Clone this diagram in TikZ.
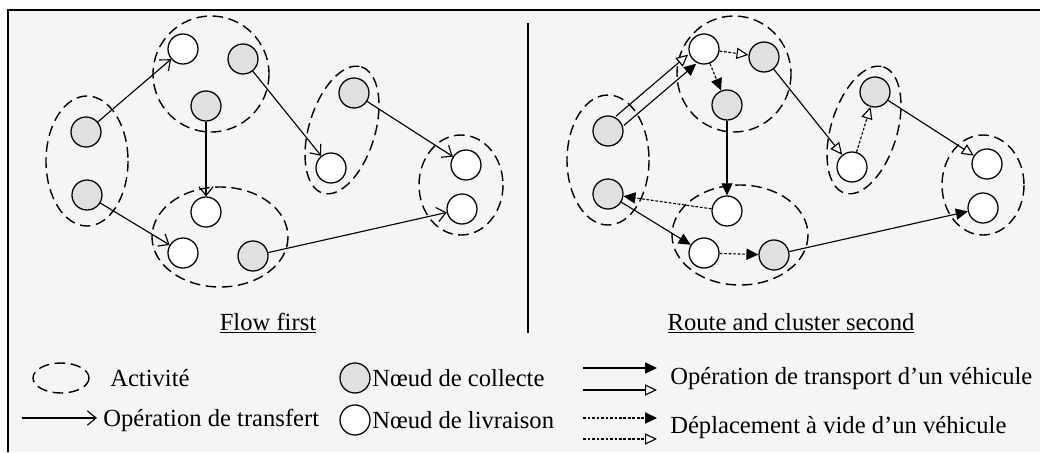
\documentclass[tikz,border=0pt]{standalone}
\usepackage{fontspec}
\setmainfont{Liberation Serif}
\usepackage{tikz}
\usetikzlibrary{arrows.meta, positioning}
\definecolor{panel}{HTML}{F5F5F5}
\definecolor{pick}{HTML}{E0E0E0}

\begin{document}
\begin{tikzpicture}[x=0.25mm, y=-0.25mm,
  collect/.style={circle, draw, fill=pick, minimum size=7.5mm, inner sep=0pt, line width=0.9pt},
  deliver/.style={collect, fill=white},
  activity/.style={draw, line width=1pt, dash pattern=on 7.5pt off 4pt},
  transfer/.style={-{Straight Barb[length=2.2mm,width=3.6mm]}, line width=0.8pt},
  trans/.style={-{Triangle[length=3mm,width=2.8mm]}, line width=0.8pt},
  transopen/.style={-{Triangle[length=3mm,width=2.8mm,fill=white]}, line width=0.8pt},
  vide/.style={trans, dash pattern=on 2pt off 1.2pt},
  videopen/.style={transopen, dash pattern=on 2pt off 1.2pt},
  lbl/.style={font=\fontsize{17.5}{21}\selectfont, inner sep=0pt}
]
\useasboundingbox (0,0) rectangle (1040,452);
\fill[panel] (8,10) rectangle (1040,452);
\draw[line width=1.1pt] (8,452) -- (8,10) -- (1040,10);

% flow first
\draw[activity] (87,161) ellipse (41 and 65);
\draw[activity] (211,74) ellipse (58 and 58);
\draw[activity] (220,237) ellipse (68 and 50);
\draw[activity, rotate around={73:(342,130)}] (342,130) ellipse (66 and 33);
\draw[activity] (461,185) ellipse (42 and 50);
\node[collect] (la1) at (86,132) {};
\node[collect] (la2) at (87,195) {};
\node[deliver] (lb1) at (183,49) {};
\node[collect] (lb2) at (243,59) {};
\node[collect] (lb3) at (206,106) {};
\node[deliver] (lc1) at (206,212) {};
\node[deliver] (lc2) at (183,253) {};
\node[collect] (lc3) at (253,256) {};
\node[collect] (ld1) at (354,93) {};
\node[deliver] (ld2) at (331,168) {};
\node[deliver] (le1) at (466,165) {};
\node[deliver] (le2) at (462,209) {};
\draw[transfer] (la1) -- (lb1);
\draw[transfer] (la2) -- (lc2);
\draw[transfer] (lb3) -- (lc1);
\draw[transfer] (lb2) -- (ld2);
\draw[transfer] (ld1) -- (le1);
\draw[transfer] (lc3) -- (le2);
\node[lbl] (flow) at (268,323) {\underline{Flow first}};

\coordinate (dtop) at (528,23);
\coordinate (dbot) at (528,333);
\draw[line width=1pt] (dtop) -- (dbot);

% route and cluster second
\draw[activity] (608,160) ellipse (41 and 65);
\draw[activity] (734,74) ellipse (57 and 58);
\draw[activity] (740,235) ellipse (68 and 50);
\draw[activity, rotate around={73:(864,130)}] (864,130) ellipse (66 and 33);
\draw[activity] (983,185) ellipse (41 and 50);
\node[collect] (ra1) at (608,131) {};
\node[collect] (ra2) at (608,194) {};
\node[deliver] (rb1) at (704,49) {};
\node[collect] (rb2) at (764,57) {};
\node[collect] (rb3) at (727,105) {};
\node[deliver] (rc1) at (727,211) {};
\node[deliver] (rc2) at (704,253) {};
\node[collect] (rc3) at (774,255) {};
\node[collect] (rd1) at (875,92) {};
\node[deliver] (rd2) at (852,167) {};
\node[deliver] (re1) at (987,164) {};
\node[deliver] (re2) at (983,208) {};
\draw[transopen, transform canvas={xshift=-1mm, yshift=1.15mm}] (ra1) -- (rb1);
\draw[trans, transform canvas={xshift=1mm, yshift=-1.15mm}] (ra1) -- (rb1);
\draw[videopen] (rb1) -- (rb2);
\draw[vide] (rb1) -- (rb3);
\draw[trans] (rb3) -- (rc1);
\draw[vide] (rc1) -- (ra2);
\draw[trans] (ra2) -- (rc2);
\draw[vide] (rc2) -- (rc3);
\draw[trans] (rc3) -- (re2);
\draw[transopen] (rb2) -- (rd2);
\draw[videopen] (rd2) -- (rd1);
\draw[transopen] (rd1) -- (re1);
\node[lbl] (route) at (791,323) {\underline{Route and cluster second}};

% legend
\draw[activity] (61,378) ellipse (28 and 15);
\node[lbl, anchor=west] (lact) at (110,378) {Activité};
\coordinate (lt0) at (22,418);
\coordinate (lt1) at (97,418);
\draw[transfer] (lt0) -- (lt1);
\node[lbl, anchor=west] (ltrf) at (103,420) {Opération de transfert};
\node[collect] (lcol) at (355,378) {};
\node[deliver] (lliv) at (355,420) {};
\node[lbl, right=1pt of lcol] {Nœud de collecte};
\node[lbl, right=1pt of lliv] {Nœud de livraison};
\coordinate (lp0) at (583,368);
\coordinate (lp1) at (657,368);
\coordinate (lq0) at (583,390);
\coordinate (lq1) at (657,390);
\coordinate (lr0) at (583,418);
\coordinate (lr1) at (657,418);
\coordinate (ls0) at (583,439);
\coordinate (ls1) at (657,439);
\draw[trans] (lp0) -- (lp1);
\draw[transopen] (lq0) -- (lq1);
\draw[vide] (lr0) -- (lr1);
\draw[videopen] (ls0) -- (ls1);
\node[lbl, anchor=west] (ltrp) at (670,379) {Opération de transport d’un véhicule};
\node[lbl, anchor=west] (lvid) at (670,428) {Déplacement à vide d’un véhicule};
\end{tikzpicture}
\end{document}
